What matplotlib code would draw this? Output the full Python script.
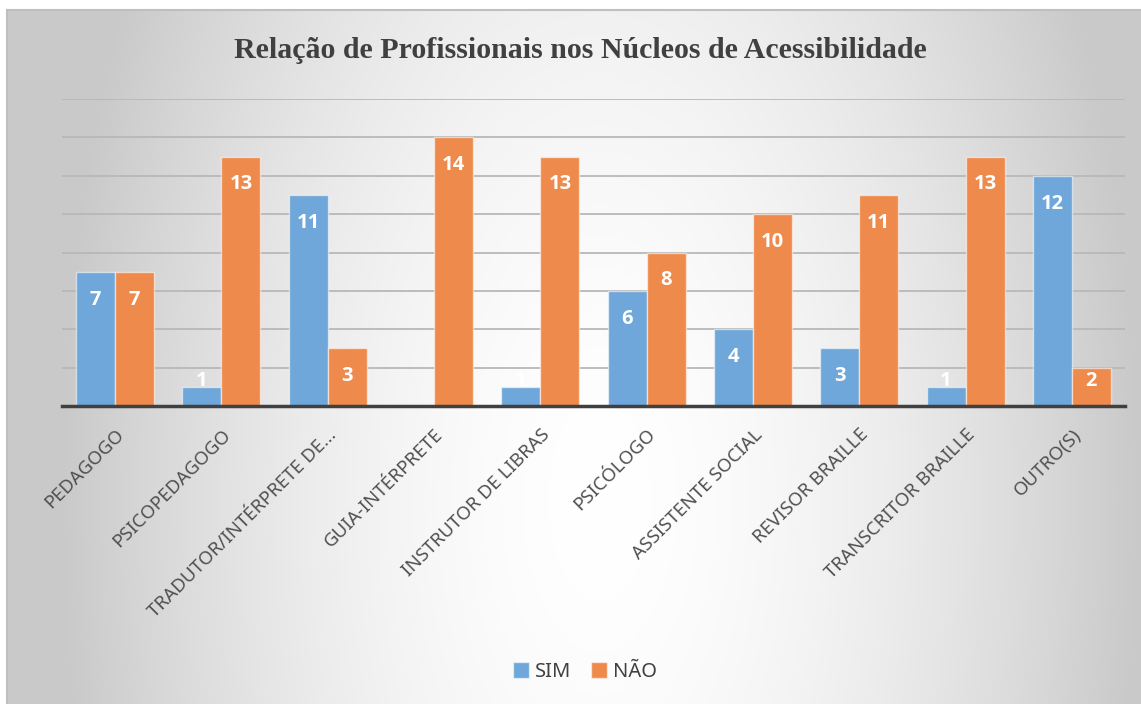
import numpy as np
import matplotlib
matplotlib.use("Agg")
import matplotlib.pyplot as plt

# dados
categorias = ["PEDAGOGO", "PSICOPEDAGOGO", "TRADUTOR/INTÉRPRETE DE...",
              "GUIA-INTÉRPRETE", "INSTRUTOR DE LIBRAS", "PSICÓLOGO",
              "ASSISTENTE SOCIAL", "REVISOR BRAILLE", "TRANSCRITOR BRAILLE",
              "OUTRO(S)"]
sim = [7, 1, 11, 0, 1, 6, 4, 3, 1, 12]
nao = [7, 13, 3, 14, 13, 8, 10, 11, 13, 2]
series = ["SIM", "NÃO"]

titulo = "Relação de Profissionais nos Núcleos de Acessibilidade"

AZUL = "#6fa7da"
LARANJA = "#ee8b4c"

W, H = 1141, 704
fig = plt.figure(figsize=(W / 100, H / 100), dpi=100, facecolor="white")

# fundo com gradiente radial (estilo Excel)
bg = fig.add_axes([7 / W, 0, 1 - 7 / W, 1 - 10 / H])
bg.set_zorder(-10)
xx, yy = np.meshgrid(np.linspace(7, W, 400), np.linspace(10, H, 250))
d = np.sqrt((xx - 600) ** 2 + ((yy - 500) / 2.0) ** 2)
g = np.clip(1 - 5.07e-6 * d ** 1.69, 0.79, 1.0)
bg.imshow(np.dstack([g, g, g]), aspect="auto", extent=[0, 1, 0, 1], origin="upper")
bg.set_xlim(0, 1)
bg.set_ylim(0, 1)
bg.set_xticks([])
bg.set_yticks([])
for s in ["right", "bottom"]:
    bg.spines[s].set_visible(False)
for s in ["left", "top"]:
    bg.spines[s].set_color("#bfbfbf")
    bg.spines[s].set_linewidth(1.5)

# grafico
ax = fig.add_axes([62 / W, 1 - 406 / H, (1125 - 62) / W, (406 - 99) / H])
ax.patch.set_alpha(0)
x = np.arange(len(categorias))
bw = 0.367

b1 = ax.bar(x - bw / 2, sim, bw, color=AZUL, edgecolor=(1, 1, 1, 0.55), linewidth=1.0, label=series[0], zorder=3)
b2 = ax.bar(x + bw / 2, nao, bw, color=LARANJA, edgecolor=(1, 1, 1, 0.55), linewidth=1.0, label=series[1], zorder=3)

# rotulos de dados (dentro do topo)
for bars, vals in [(b1, sim), (b2, nao)]:
    for r, v in zip(bars, vals):
        if v == 0:
            continue
        ax.text(r.get_x() + r.get_width() / 2, max(v - 1.45, 1.3), str(v),
                ha="center", va="center", color="white", fontsize=14.5,
                fontweight="bold", family="Open Sans", zorder=4)

ax.set_xlim(-0.5, len(categorias) - 0.5)
ax.set_ylim(0, 16)
ax.set_yticks(np.arange(0, 17, 2))
ax.yaxis.grid(True, color="#b8b8b8", linewidth=1.3, zorder=0)
ax.tick_params(axis="y", left=False, labelleft=False)
ax.tick_params(axis="x", length=0, pad=14)
ax.set_xticks(x)
ax.set_xticklabels(categorias, rotation=45, ha="right", rotation_mode="anchor",
                   fontsize=13.5, color="#505050", family="Noto Sans")
for s in ["left", "right", "top"]:
    ax.spines[s].set_visible(False)
ax.spines["bottom"].set_color("#404040")
ax.spines["bottom"].set_linewidth(2.5)
ax.spines["bottom"].set_zorder(5)

fig.text(580 / W, 1 - 58 / H, titulo, ha="center", va="baseline", fontsize=21.5,
         fontweight="bold", family="Liberation Serif", color="#404040")

fig.legend(handles=[b1, b2], labels=series, loc="center", ncol=2,
           bbox_to_anchor=(585 / W, 1 - 672 / H), frameon=False,
           handlelength=0.8, handleheight=0.8, handletextpad=0.3,
           columnspacing=1.0, prop={"family": "Noto Sans", "size": 14.5},
           labelcolor="#404040")

fig.savefig("out.png", dpi=100, facecolor="white")
